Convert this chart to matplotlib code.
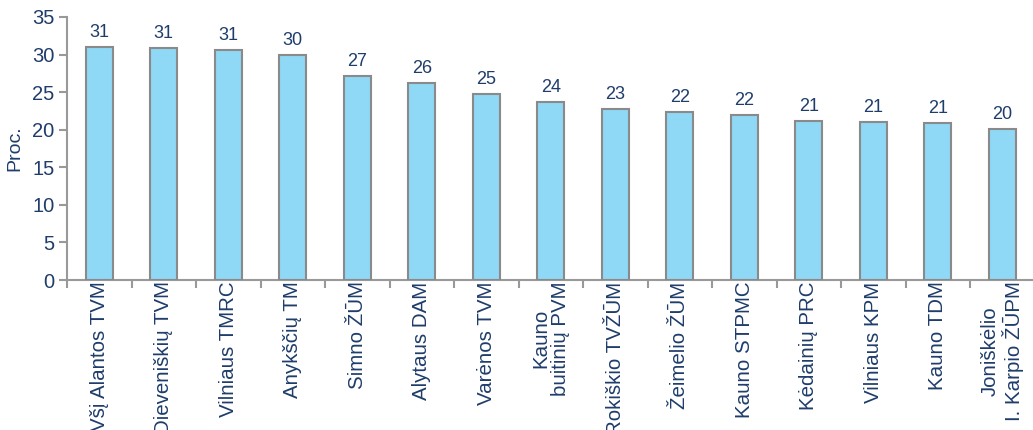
import matplotlib
matplotlib.use("Agg")
import matplotlib.pyplot as plt
import numpy as np

categories = ["Všį Alantos TVM", "Dieveniškių TVM", "Vilniaus TMRC", "Anykščių TM",
              "Simno ŽŪM", "Alytaus DAM", "Varėnos TVM", "Kauno\nbuitinių PVM",
              "Rokiškio TVŽŪM", "Žeimelio ŽŪM", "Kauno STPMC", "Kėdainių PRC",
              "Vilniaus KPM", "Kauno TDM", "Joniškėlio\nI. Karpio ŽŪPM"]
values = [31.0, 30.9, 30.6, 30.0, 27.1, 26.2, 24.8, 23.7, 22.8, 22.3, 21.9, 21.2, 21.0, 20.9, 20.1]
yticks = [0, 5, 10, 15, 20, 25, 30, 35]
ylabel = "Proc."

plt.rcParams['font.family'] = ['Liberation Sans', 'DejaVu Sans']
txt = "#1f3d6b"
gray = "#999999"

fig = plt.figure(figsize=(10.33, 4.30), dpi=100)
ax = fig.add_axes([67/1033, 1-280/430, 967.5/1033, 263/430])

x = np.arange(len(categories))
bars = ax.bar(x, values, width=0.42, color="#8fd8f6", edgecolor="#8a8a8a", linewidth=1.5, zorder=3)
for xi, v in zip(x, values):
    ax.text(xi, v + 0.8, f"{v:.0f}", ha="center", va="bottom", fontsize=13, color=txt)

ax.set_xlim(-0.5, len(categories) - 0.5)
ax.set_ylim(0, 35)
ax.set_yticks(yticks)
ax.set_yticklabels([str(t) for t in yticks], fontsize=14.5, color=txt)
ax.set_ylabel(ylabel, fontsize=14, color=txt, labelpad=6)

ax.set_xticks(np.arange(-0.5, len(categories), 1.0))
ax.set_xticklabels([])
ax.set_xticks(x, minor=True)
ax.set_xticklabels(categories, minor=True, rotation=90, fontsize=14.8, color=txt,
                   ha="center", va="top", multialignment="center", linespacing=1.1)
ax.tick_params(axis="x", which="minor", length=0, pad=1)
ax.tick_params(axis="x", which="major", length=6, color=gray, width=1.5, direction="out")
ax.tick_params(axis="y", length=6, color=gray, width=1.5, direction="out", pad=3)

for s in ["top", "right"]:
    ax.spines[s].set_visible(False)
for s in ["left", "bottom"]:
    ax.spines[s].set_color(gray)
    ax.spines[s].set_linewidth(1.5)

fig.savefig("out.png", dpi=100)
